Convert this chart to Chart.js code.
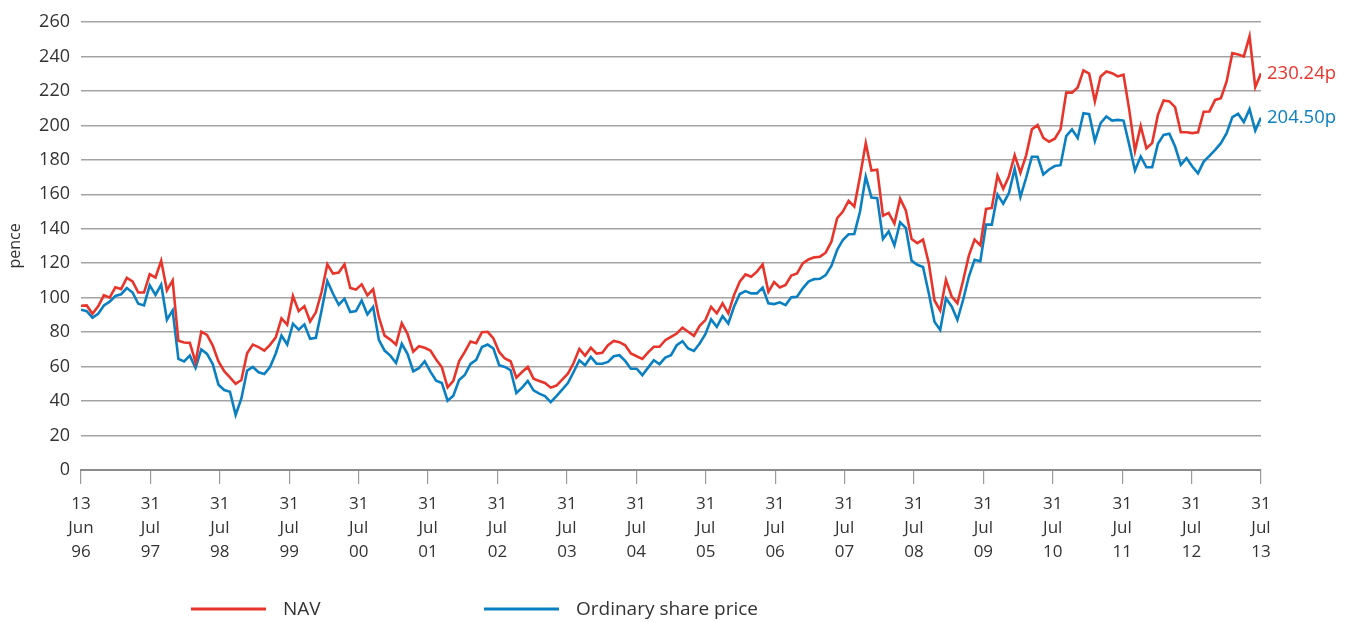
<!DOCTYPE html>
<html>
<head>
<meta charset="utf-8">
<script src="https://cdn.jsdelivr.net/npm/chart.js@4.4.1/dist/chart.umd.min.js"></script>
<style>
  html, body { margin: 0; padding: 0; background: #fff; }
</style>
</head>
<body>
<canvas id="navChart" width="1351" height="622"></canvas>
<script>
// monthly values, 13 Jun 96 .. 31 Jul 13 (pence)
var navValues = [
  95.3,95.5,90.7,95,101.4,100,106,105,111.5,109.5,103,103,113.6,111.7,121.4,104.3,110,75,74,73.8,
  62.5,80.2,78.4,72.2,63,57.3,53.8,50,52.2,67.8,72.8,71.3,69.3,72.6,77,
  88,84.3,101,92.2,95.1,86.2,91.5,103.3,119.4,114,114.6,119.4,105.6,104.7,107.8,101.4,104.9,88.7,78,75.7,
  72.8,85.2,79,68.7,71.8,70.9,69.3,64.1,59.6,48,51.8,63.1,68.5,74.6,73.6,
  80,80.2,76.3,68.5,64.7,63.1,53.6,56.9,59.8,53,51.7,50.5,47.8,49,52.4,55.9,62.1,70.3,66.4,70.9,
  67.6,68,72.4,74.9,74.2,72.4,67.6,66,64.5,68.3,71.5,71.5,75.3,77.3,79.2,
  82.6,80.2,77.9,83.7,87,94.7,90.9,96.7,90.9,101.5,109.3,113.5,112.2,115.1,119.3,103.4,109.1,106,107.4,112.8,
  114.1,119.9,122.2,123.4,123.8,126.1,132.5,146.1,150,156.2,152.9,170.3,189.7,173.8,
  174.3,147.6,149.2,143,157.5,150.6,134.1,131.7,133.7,120.1,98.4,92.6,110.4,100.7,96.8,110,124.4,133.7,130.4,151.5,
  152.1,170.9,163.2,170.5,182.6,172.5,182.6,197.7,200.2,192.8,190.5,192.3,197.7,219,219,
  222,231.9,230,213.9,228.4,231.3,230.3,228.4,229.4,209,185.2,199.7,186.7,189.7,206.1,214.5,213.9,210.6,196,196,
  195.5,196,207.9,208.1,214.8,215.8,225.5,242,241.2,240,251.7,222.2,230.24
];

var priceValues = [
  93,92.2,88.4,90.7,95.5,97.7,101,102,105.6,103,96.5,95.5,107.2,101.6,107.6,87.2,92.6,64.5,63,66.4,
  59.2,70,67.4,61.5,49.5,46.4,45.4,32,41.5,57.7,59.8,56.7,55.7,59.8,67.6,
  78,72.8,84.9,81.4,84.5,76.1,76.7,92.6,109.7,102.3,95.9,99.4,91.7,92.2,98.4,90.3,94.6,75.5,69.3,66.4,
  62.1,73.2,67.4,57.3,59.1,63.1,57.1,51.8,50.5,40.2,43.1,52.2,55.1,61.6,63.9,
  71.4,72.8,70.5,60.8,59.8,57.9,44.7,47.8,51.7,46.2,44.3,42.9,39.4,42.9,46.6,50.5,56.9,63.7,60.8,65.6,
  61.7,61.7,62.7,66,66.6,63.3,58.8,58.8,55,59.4,63.7,61.4,65.2,66.6,72.4,
  74.7,70.5,69.1,73.4,78.8,87.4,83.1,89.3,85,94.7,102.1,103.8,102.5,102.5,105.8,96.7,96.3,97.3,95.7,100.2,
  100.5,105.4,109.3,110.8,111,113.1,118.4,127.7,133.5,136.8,137,150,170.3,158.1,
  157.8,134.1,138.5,130.4,143.8,140.5,121.5,119.1,117.8,102.6,86.1,81.3,99.7,94.9,87.1,98.8,112.3,122,121.1,142.4,
  142.4,159.9,154.6,160.8,174.8,158.5,169.6,181.8,181.8,171.5,174.4,176.4,176.9,193.8,197.7,
  192.7,207.1,206.5,191,201.3,205.2,202.8,203.2,202.8,188.7,173.8,181.9,175.7,175.7,189.3,194.5,195.1,187.7,177.1,181,
  176.1,172.2,179,182.3,185.8,189.7,195.5,204.8,206.7,201.9,209.4,197,204.5
];

var tickLabels = [
  ["13","Jun","96"],["31","Jul","97"],["31","Jul","98"],["31","Jul","99"],["31","Jul","00"],
  ["31","Jul","01"],["31","Jul","02"],["31","Jul","03"],["31","Jul","04"],["31","Jul","05"],
  ["31","Jul","06"],["31","Jul","07"],["31","Jul","08"],["31","Jul","09"],["31","Jul","10"],
  ["31","Jul","11"],["31","Jul","12"],["31","Jul","13"]
];

var seriesNames = ["NAV", "Ordinary share price"];
var endLabels = ["230.24p", "204.50p"];

var RED = "#e8352b";
var BLUE = "#0a80c2";
var TEXT = "#333333";
var FONT = '"Open Sans", sans-serif';

var lastIndex = navValues.length - 1;

function toPoints(arr) {
  return arr.map(function (v, i) { return { x: i, y: v }; });
}

// value labels at the right end of each line
var endLabelPlugin = {
  id: "endLabels",
  afterDatasetsDraw: function (chart) {
    var ctx = chart.ctx;
    var xs = chart.scales.x, ys = chart.scales.y;
    chart.data.datasets.forEach(function (ds, i) {
      var last = ds.data[ds.data.length - 1];
      ctx.save();
      ctx.font = "18.5px " + FONT;
      ctx.fillStyle = ds.borderColor;
      ctx.textBaseline = "middle";
      ctx.textAlign = "left";
      ctx.fillText(endLabels[i], xs.getPixelForValue(last.x) + 6, ys.getPixelForValue(last.y));
      ctx.restore();
    });
  }
};

// legend drawn under the axis
var legendPlugin = {
  id: "bottomLegend",
  afterDraw: function (chart) {
    var ctx = chart.ctx;
    var spots = [191, 484];
    chart.data.datasets.forEach(function (ds, i) {
      var x0 = spots[i], y = 609;
      ctx.save();
      ctx.strokeStyle = ds.borderColor;
      ctx.lineWidth = 3;
      ctx.beginPath();
      ctx.moveTo(x0, y);
      ctx.lineTo(x0 + 75, y);
      ctx.stroke();
      ctx.font = "19px " + FONT;
      ctx.fillStyle = TEXT;
      ctx.textBaseline = "middle";
      ctx.fillText(ds.label, x0 + 92, y + 1);
      ctx.restore();
    });
  }
};

var ctx = document.getElementById("navChart").getContext("2d");

var myChart = new Chart(ctx, {
  type: "line",
  data: {
    datasets: [
      {
        label: seriesNames[0],
        data: toPoints(navValues),
        borderColor: RED,
        borderWidth: 2.6,
        pointRadius: 0,
        tension: 0,
        fill: false
      },
      {
        label: seriesNames[1],
        data: toPoints(priceValues),
        borderColor: BLUE,
        borderWidth: 2.6,
        pointRadius: 0,
        tension: 0,
        fill: false
      }
    ]
  },
  options: {
    responsive: false,
    animation: false,
    layout: { padding: { top: 22, right: 90, bottom: 0, left: 0 } },
    plugins: {
      legend: { display: false },
      tooltip: { enabled: false }
    },
    scales: {
      x: {
        type: "linear",
        min: 0,
        max: lastIndex,
        afterBuildTicks: function (axis) {
          axis.ticks = tickLabels.map(function (_, k) {
            return { value: k * lastIndex / (tickLabels.length - 1) };
          });
        },
        afterFit: function (axis) { axis.height = 152; },
        grid: {
          drawOnChartArea: false,
          drawTicks: true,
          tickLength: 14,
          color: "#9a9a9a",
          lineWidth: 1.2
        },
        border: { display: true, color: "#8c8c8c", width: 2 },
        ticks: {
          autoSkip: false,
          maxRotation: 0,
          padding: 8,
          color: TEXT,
          font: { family: FONT, size: 17, lineHeight: 1.42 },
          callback: function (value, index) { return tickLabels[index]; }
        }
      },
      y: {
        min: 0,
        max: 260,
        afterFit: function (axis) { axis.width = 81; },
        grid: {
          drawTicks: false,
          color: "#a3a3a3",
          lineWidth: 1.5
        },
        border: { display: false },
        ticks: {
          stepSize: 20,
          padding: 11,
          color: TEXT,
          font: { family: FONT, size: 18 }
        },
        title: {
          display: true,
          text: "pence",
          color: TEXT,
          font: { family: FONT, size: 16 },
          padding: { top: 6, bottom: 0 }
        }
      }
    }
  },
  plugins: [endLabelPlugin, legendPlugin]
});
</script>
</body>
</html>
